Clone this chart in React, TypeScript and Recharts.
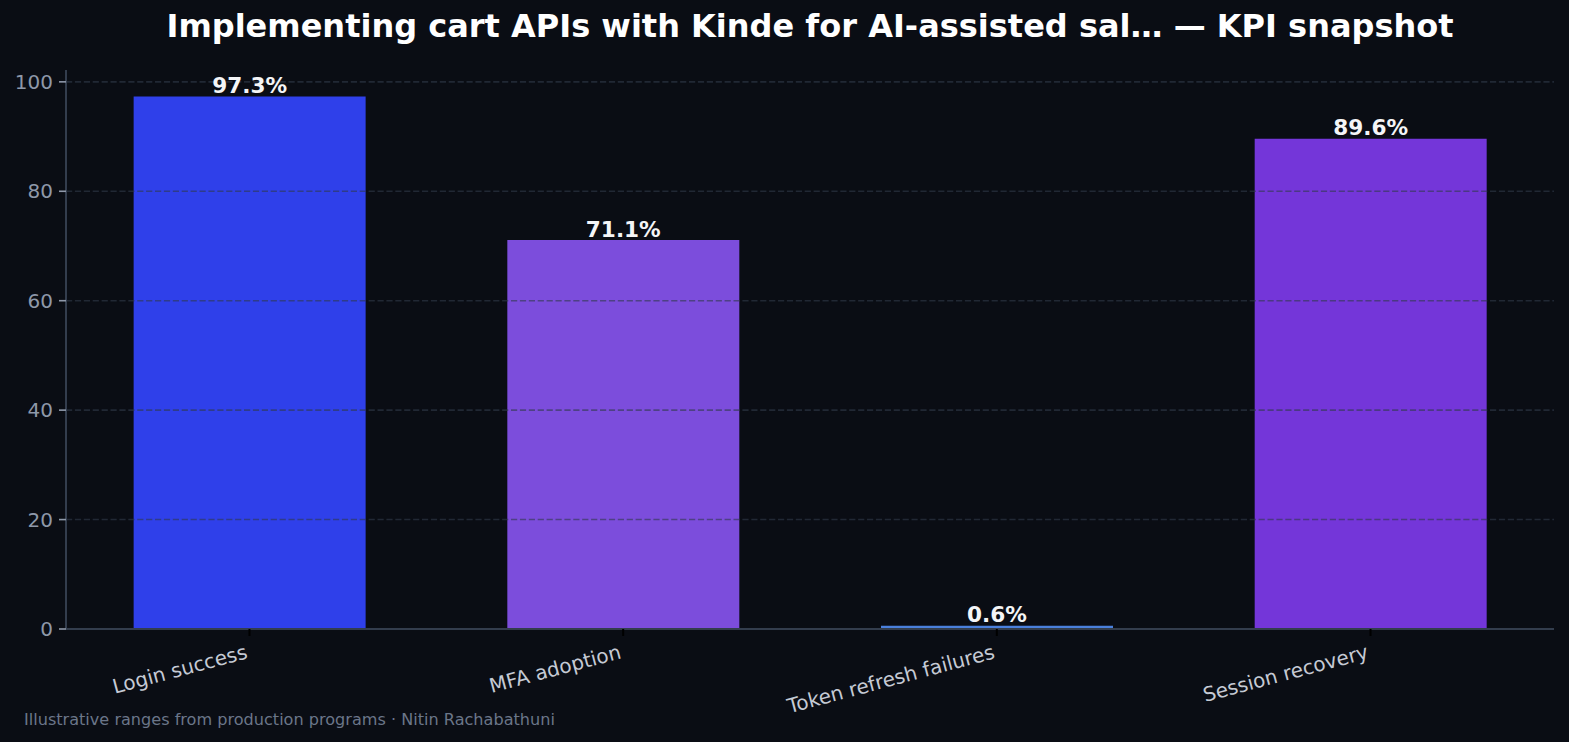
import React from "react";
import { BarChart, Bar, XAxis, YAxis, Cell, LabelList, ReferenceLine } from "recharts";

// ---------- Data ----------

const CATEGORIES = ["Login success", "MFA adoption", "Token refresh failures", "Session recovery"];
const VALUES = [97.3, 71.1, 0.6, 89.6];
const BAR_COLORS = ["#2f40ea", "#7c4ddc", "#4a80dc", "#7436d9"];
const Y_TICKS = [0, 20, 40, 60, 80, 100];

const TITLE = "Implementing cart APIs with Kinde for AI-assisted sal… — KPI snapshot";
const FOOTER = "Illustrative ranges from production programs · Nitin Rachabathuni";

// ---------- Style ----------

const BG = "#0a0d14";
const FONT = "'DejaVu Sans', sans-serif";
const W = 1569;
const H = 742;

const chartData = CATEGORIES.map((name, i) => ({ idx: i, name, value: VALUES[i] }));

// rotated category label, right end near the tick
const XTick = (props: any) => {
    const { x, payload } = props;
    const label = CATEGORIES[payload.value] ?? "";
    const px = x - 1;
    const py = 629 + 29;
    return (
        <text
            x={px}
            y={py}
            textAnchor="end"
            transform={`rotate(-15, ${px}, ${py})`}
            fill="#c5cad4"
            fontSize={20}
            fontFamily={FONT}
        >
            {label}
        </text>
    );
};

const BarValue = (props: any) => {
    const { x, y, width, value } = props;
    return (
        <text
            x={x + width / 2}
            y={y - 3.4}
            textAnchor="middle"
            fill="#f4f5f7"
            fontSize={21.6}
            fontWeight="bold"
            fontFamily={FONT}
        >
            {`${value.toFixed(1)}%`}
        </text>
    );
};

export default function App() {
    return (
        <div style={{ position: "absolute", left: 0, top: 0, width: W, height: H, background: BG, fontFamily: FONT }}>
            <svg width={W} height={H} style={{ position: "absolute", left: 0, top: 0 }}>
                <text x={810} y={37} textAnchor="middle" fill="#ffffff" fontSize={32} fontWeight="bold" fontFamily={FONT}>
                    {TITLE}
                </text>
                <text x={24} y={725} fill="#6b7689" fontSize={16.1} fontFamily={FONT}>
                    {FOOTER}
                </text>
            </svg>
            <div style={{ position: "absolute", left: 0, top: 0 }}>
                <BarChart width={W} height={H} data={chartData} margin={{ top: 70, right: 15, left: 0, bottom: 0 }}>
                    <XAxis
                        type="number"
                        dataKey="idx"
                        domain={[-0.491, 3.491]}
                        ticks={[0, 1, 2, 3]}
                        allowDataOverflow
                        height={113}
                        tick={<XTick />}
                        tickSize={7}
                        tickLine={{ stroke: "#000000", strokeWidth: 2 }}
                        axisLine={{ stroke: "#333d4d", strokeWidth: 2 }}
                        interval={0}
                    />
                    <YAxis
                        type="number"
                        domain={[0, 102.165]}
                        ticks={Y_TICKS}
                        allowDataOverflow
                        width={66}
                        tickSize={7}
                        tickMargin={6}
                        tick={{ fill: "#8e98a9", fontSize: 20, fontFamily: FONT }}
                        tickLine={{ stroke: "#8e98a9", strokeWidth: 1.6 }}
                        axisLine={{ stroke: "#333d4d", strokeWidth: 2 }}
                    />
                    <Bar dataKey="value" barSize={232} isAnimationActive={false}>
                        {chartData.map((_, i) => (
                            <Cell key={i} fill={BAR_COLORS[i]} />
                        ))}
                        <LabelList dataKey="value" content={<BarValue />} />
                    </Bar>
                    {/* grid drawn over the bars, like the source */}
                    {Y_TICKS.slice(1).map((t) => (
                        <ReferenceLine
                            key={t}
                            y={t}
                            stroke="rgba(48, 58, 74, 0.6)"
                            strokeWidth={1.6}
                            strokeDasharray="6.2 2.7"
                        />
                    ))}
                </BarChart>
            </div>
        </div>
    );
}
